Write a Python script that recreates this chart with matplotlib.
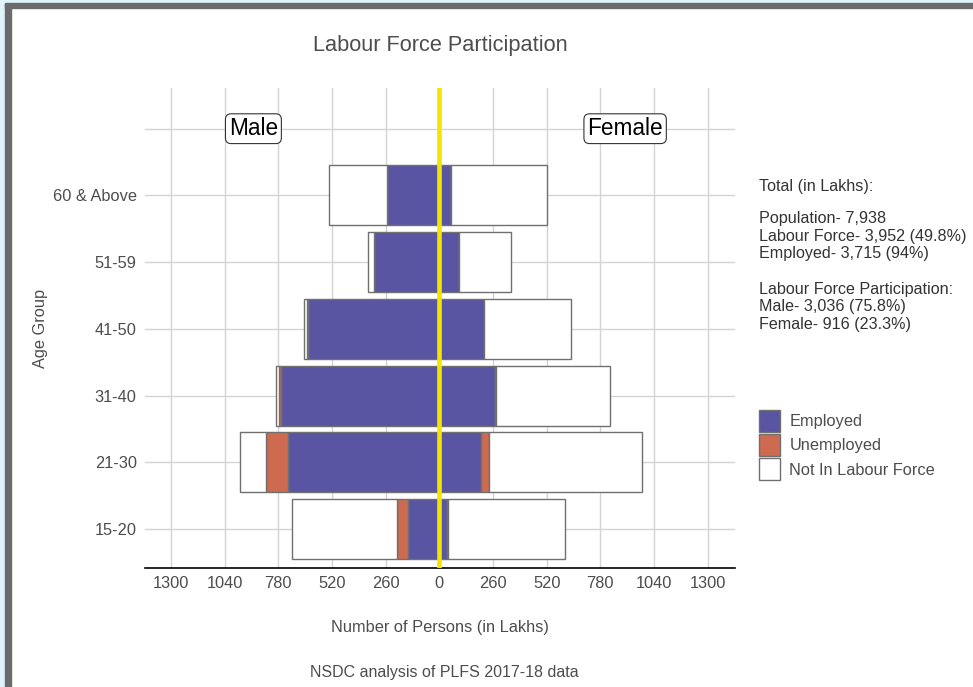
import matplotlib
matplotlib.use("Agg")
import matplotlib.pyplot as plt
from matplotlib.patches import Patch, Rectangle
import numpy as np

plt.rcParams['font.family'] = ['Liberation Sans', 'DejaVu Sans']

# ---- data (in Lakhs) ----
ages = ["15-20", "21-30", "31-40", "41-50", "51-59", "60 & Above"]
male_emp = [152, 733, 768, 637, 315, 253]
male_unemp = [55, 108, 10, 2, 0, 0]
male_nilf = [505, 123, 13, 17, 29, 281]
female_emp = [37, 203, 271, 216, 95, 55]
female_unemp = [6, 36, 2, 0, 0, 0]
female_nilf = [568, 741, 556, 420, 250, 468]

tick_vals = [-1300, -1040, -780, -520, -260, 0, 260, 520, 780, 1040, 1300]
tick_labels = ["1300", "1040", "780", "520", "260", "0", "260", "520", "780", "1040", "1300"]

categories = ["Employed", "Unemployed", "Not In Labour Force"]
colors = ["#5A55A3", "#CD6A4F", "#FFFFFF"]

summary_head = "Total (in Lakhs):"
summary_mid = "Population- 7,938\nLabour Force- 3,952 (49.8%)\nEmployed- 3,715 (94%)"
summary_tail = "Labour Force Participation:\nMale- 3,036 (75.8%)\nFemale- 916 (23.3%)"

TXT = "#4D4D4D"
EDGE = "#707070"
FS = 11.8
FS_NOTE = 11.6

fig = plt.figure(figsize=(9.73, 6.87), dpi=100)
W, H = 973, 687
ax = fig.add_axes([145 / W, 1 - 568 / H, 590 / W, 480 / H])

y = np.arange(1, len(ages) + 1)
hgt = 0.9

m_e = -np.array(male_emp, float)
m_u = -np.array(male_unemp, float)
m_n = -np.array(male_nilf, float)
f_e = np.array(female_emp, float)
f_u = np.array(female_unemp, float)
f_n = np.array(female_nilf, float)

kw = dict(height=hgt, edgecolor=EDGE, linewidth=1.0, zorder=3)
ax.barh(y, m_e, left=0, color=colors[0], **kw)
ax.barh(y, m_u, left=m_e, color=colors[1], **kw)
ax.barh(y, m_n, left=m_e + m_u, color=colors[2], **kw)
ax.barh(y, f_e, left=0, color=colors[0], **kw)
ax.barh(y, f_u, left=f_e, color=colors[1], **kw)
ax.barh(y, f_n, left=f_e + f_u, color=colors[2], **kw)

ax.axvline(0, color="#F2E600", linewidth=3.3, zorder=5)

ax.set_xlim(-1425, 1432)
ax.set_ylim(0.415, 7.61)
ax.set_xticks(tick_vals)
ax.set_xticklabels(tick_labels)
ax.set_yticks(list(y) + [7])
ax.set_yticklabels(ages + [""])

ax.grid(True, color="#D3D3D3", linewidth=1.0, zorder=0)
ax.set_axisbelow(True)
for s in ["left", "right", "top"]:
    ax.spines[s].set_visible(False)
ax.spines["bottom"].set_color("black")
ax.spines["bottom"].set_linewidth(1.2)
ax.tick_params(axis="both", length=0, labelsize=FS, labelcolor=TXT)
ax.tick_params(axis="y", pad=6)
ax.tick_params(axis="x", pad=6)

ax.set_xlabel("Number of Persons (in Lakhs)", fontsize=FS, color=TXT)
ax.xaxis.set_label_coords(0.5, (568 - 620) / 480)
ax.set_ylabel("Age Group", fontsize=FS, color=TXT)
ax.yaxis.set_label_coords((48 - 145) / 590, 0.5)

box = dict(boxstyle="round,pad=0.15,rounding_size=0.25", facecolor="white", edgecolor="#333333", linewidth=0.8)
ax.text(-900, 7, "Male", ha="center", va="center", fontsize=16.3, color="black", bbox=box, zorder=6)
ax.text(900, 7, "Female", ha="center", va="center", fontsize=16.3, color="black", bbox=box, zorder=6)

fig.text(440 / W, 1 - 45 / H, "Labour Force Participation", ha="center", va="center", fontsize=15.7, color=TXT)
fig.text(444 / W, 1 - 673 / H, "NSDC analysis of PLFS 2017-18 data", ha="center", va="center", fontsize=11.5, color=TXT)

fig.text(759 / W, 1 - 186 / H, summary_head, ha="left", va="center", fontsize=FS_NOTE, color="#333333")
fig.text(759 / W, 1 - 236 / H, summary_mid, ha="left", va="center", fontsize=FS_NOTE, color="#333333", linespacing=1.22)
fig.text(759 / W, 1 - 307 / H, summary_tail, ha="left", va="center", fontsize=FS_NOTE, color="#333333", linespacing=1.22)

handles = [Patch(facecolor=c, edgecolor=EDGE, linewidth=1.0, label=l) for c, l in zip(colors, categories)]
leg = fig.legend(handles=handles, loc="upper left", bbox_to_anchor=(759 / W, 1 - 410 / H),
                 frameon=False, fontsize=FS, handlelength=1.3, handleheight=1.65,
                 labelspacing=0.16, handletextpad=0.55, borderpad=0, borderaxespad=0)
for t in leg.get_texts():
    t.set_color(TXT)

# screenshot frame
fig.patches.append(Rectangle((0, 0), 5 / W, 1, transform=fig.transFigure, color="#DFF3FB", zorder=10))
fig.patches.append(Rectangle((5 / W, 0), 6 / W, 1 - 3 / H, transform=fig.transFigure, color="#6B6B6B", zorder=10))
fig.patches.append(Rectangle((0, 1 - 3 / H), 1, 3 / H, transform=fig.transFigure, color="#DFF3FB", zorder=10))
fig.patches.append(Rectangle((5 / W, 1 - 8 / H), 1, 5 / H, transform=fig.transFigure, color="#6B6B6B", zorder=10))

fig.savefig("out.png", dpi=100)
